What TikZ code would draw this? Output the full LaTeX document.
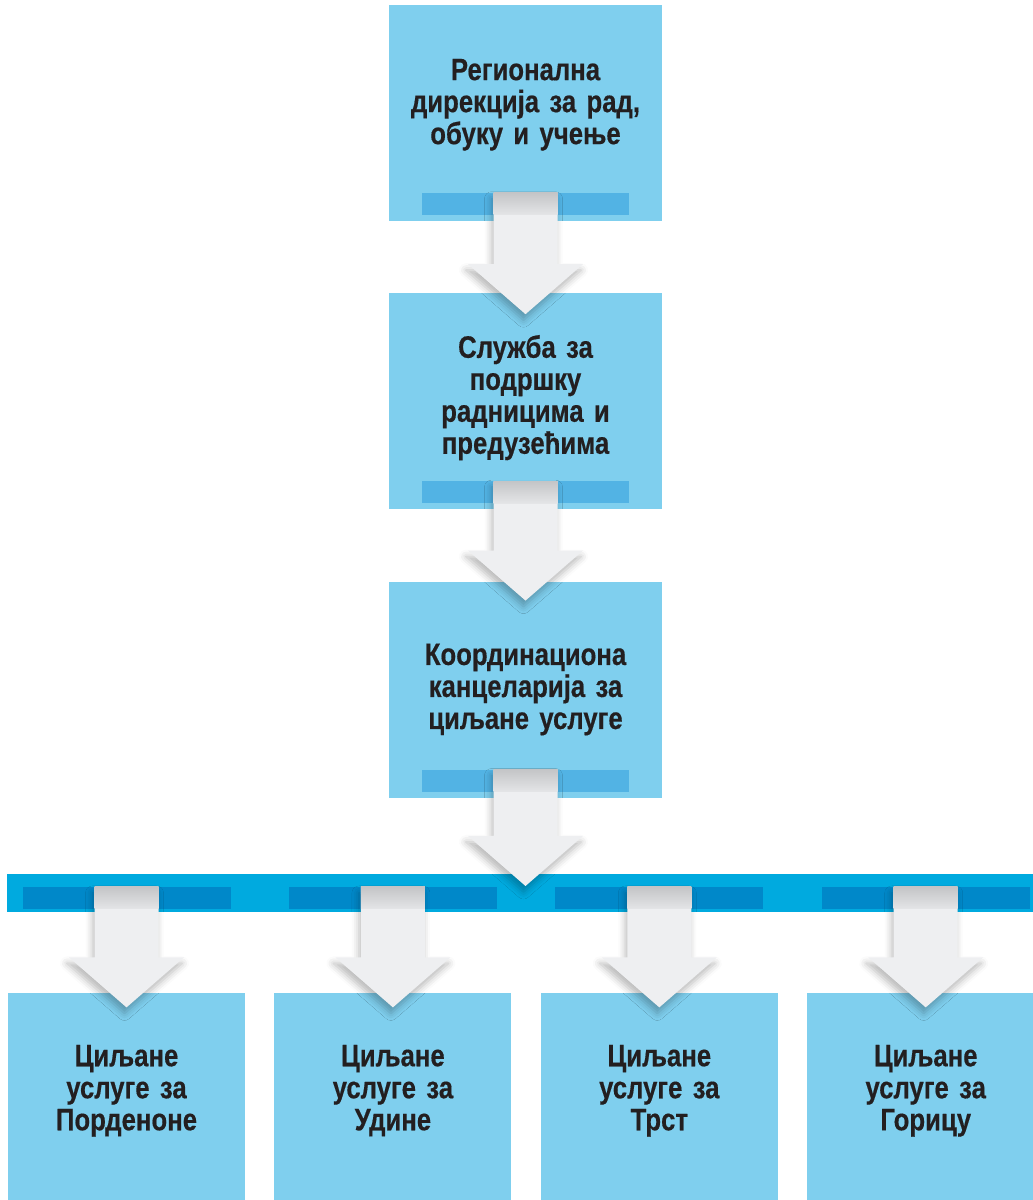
\documentclass[tikz,border=0pt]{standalone}
\usepackage{fontspec}
\newfontfamily\boxfont{Liberation Sans}[FakeStretch=0.83,BoldFeatures={FakeBold=0.4}]
\usetikzlibrary{positioning,calc,shadows.blur}

\definecolor{boxblue}{HTML}{7FCFEE}
\definecolor{stripblue}{HTML}{52B3E4}
\definecolor{barblue}{HTML}{00AADF}
\definecolor{barstripblue}{HTML}{0088C9}
\definecolor{arrowgray}{HTML}{EEEFF1}
\definecolor{shaftdark}{HTML}{C4C5C7}
\definecolor{shaftlight}{HTML}{E4E5E7}
\definecolor{textdark}{HTML}{231F20}

% block arrow: from a strip node down into the next node
\newcommand{\blockarrow}[3]{%
  \fill[arrowbody] let \p1=(#1.north), \p2=(#2.north) in
    (\x1-32pt,\y1) -- (\x1-32pt,\y2-#3pt+50pt) -- (\x1-57.5pt,\y2-#3pt+50pt)
    -- (\x1,\y2-#3pt) -- (\x1+57.5pt,\y2-#3pt+50pt) -- (\x1+32pt,\y2-#3pt+50pt)
    -- (\x1+32pt,\y1) -- cycle;
  \shade[top color=shaftdark,bottom color=shaftlight] let \p1=(#1.north) in
    (\x1-32pt,\y1) rectangle (\x1+32pt,\y1-22pt);
}

\begin{document}
\begin{tikzpicture}[x=1pt,y=1pt,node distance=72pt,
    box/.style={fill=boxblue,minimum width=273pt,minimum height=216pt,inner sep=0pt,
      text width=250pt,align=center,text=textdark,
      font=\boxfont\bfseries\fontsize{31}{32}\selectfont},
    lowbox/.style={box,minimum width=237pt,text width=220pt,text depth=90pt},
    strip/.style={fill=stripblue,minimum width=207pt,minimum height=22pt,inner sep=0pt},
    barstrip/.style={strip,fill=barstripblue,minimum width=208pt},
    arrowbody/.style={fill=arrowgray,blur shadow={shadow xshift=-2pt,shadow yshift=-6pt,
      shadow blur radius=7pt,shadow opacity=28}}]
  \useasboundingbox (0,0) rectangle (1033,1200);

\node [box,text depth=87pt] (regdir) at (525.5,1087) {Регионална\\ дирекција за рад,\\ обуку и учење};
\node [box,text depth=110pt] (podrska) [below=of regdir] {Служба за\\ подршку\\ радницима и\\ предузећима};
\node [box,text depth=71pt] (koord) [below=of podrska] {Координациона\\ канцеларија за\\ циљане услуге};
\node [fill=barblue,minimum width=1037pt,minimum height=38pt,inner sep=0pt] (bar) [below=76pt of koord] {};
\node [lowbox] (pord) [below right=80pt and 1pt of bar.south west] {Циљане\\ услуге за\\ Порденоне};
\node [lowbox] (udine) [right=29pt of pord] {Циљане\\ услуге за\\ Удине};
\node [lowbox] (trst) [right=29pt of udine] {Циљане\\ услуге за\\ Трст};
\node [lowbox] (gorica) [right=29pt of trst] {Циљане\\ услуге за\\ Горицу};

% strips
\node [strip] (regdir-strip) [above=6pt of regdir.south] {};
\node [strip] (podrska-strip) [above=6pt of podrska.south] {};
\node [strip] (koord-strip) [above=6pt of koord.south] {};
\node [barstrip,anchor=south] (pord-strip) at ($(bar.south -| pord)+(0,3)$) {};
\node [barstrip,anchor=south] (udine-strip) at ($(bar.south -| udine)+(0,3)$) {};
\node [barstrip,anchor=south] (trst-strip) at ($(bar.south -| trst)+(0,3)$) {};
\node [barstrip,anchor=south] (gorica-strip) at ($(bar.south -| gorica)+(0,3)$) {};

% arrows
\blockarrow{regdir-strip}{podrska}{21}
\blockarrow{podrska-strip}{koord}{19}
\blockarrow{koord-strip}{bar}{12}
\blockarrow{pord-strip}{pord}{15}
\blockarrow{udine-strip}{udine}{15}
\blockarrow{trst-strip}{trst}{15}
\blockarrow{gorica-strip}{gorica}{15}

\end{tikzpicture}
\end{document}
